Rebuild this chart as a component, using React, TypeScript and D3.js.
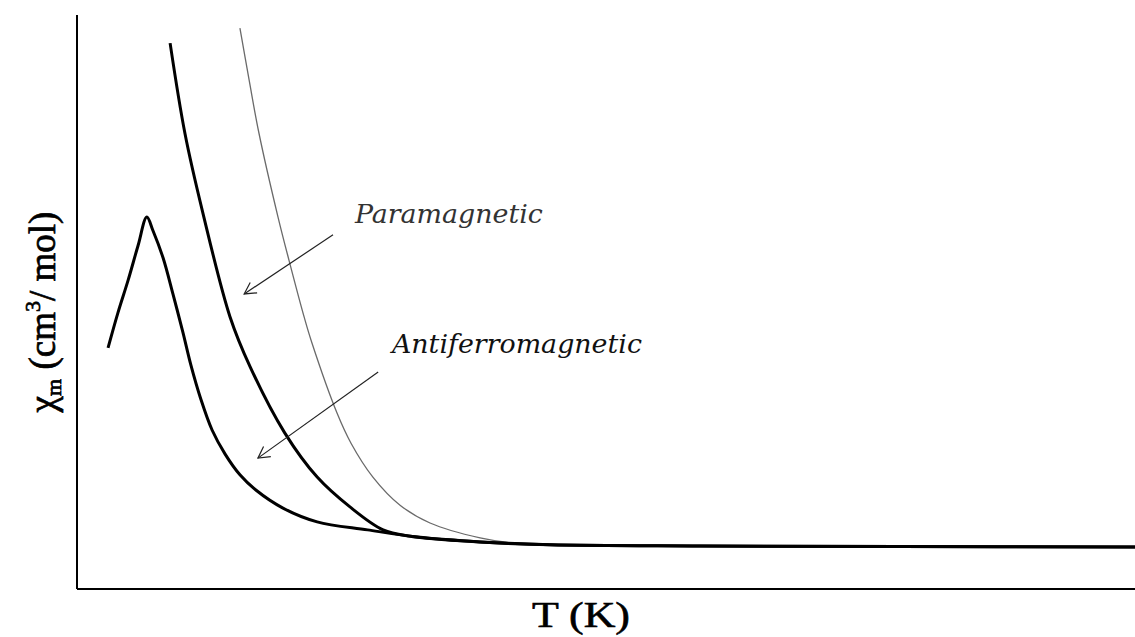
import React from "react";
import * as d3 from "d3";

// T in K, chi in arbitrary units (0..1)
const antiferroT = [8.8, 11.6, 14.5, 17.3, 19.8, 21.5, 24.4, 27.2, 30.0, 32.3, 35.1, 38.3, 42.0, 46.2, 50.8, 58.4, 68.1, 82.4, 97.3, 114.3, 134.1, 176.7, 233.4, 300];
const antiferroChi = [0.42, 0.481, 0.538, 0.598, 0.648, 0.625, 0.577, 0.514, 0.448, 0.390, 0.331, 0.277, 0.235, 0.199, 0.172, 0.141, 0.117, 0.103, 0.090, 0.082, 0.077, 0.075, 0.074, 0.073];

const paraT = [26.4, 30.6, 35.7, 43.4, 49.1, 58.9, 68.1, 77.4, 86.8, 94.5, 114.3, 134.1, 176.7, 233.4, 300];
const paraChi = [0.951, 0.794, 0.655, 0.474, 0.387, 0.272, 0.195, 0.143, 0.103, 0.092, 0.082, 0.077, 0.075, 0.074, 0.073];

const grayT = [46.2, 48.8, 51.6, 57.0, 60.1, 64.4, 66.6, 73.7, 77.7, 83.9, 91.6, 100.1, 114.3, 123.6, 134.1, 176.7, 233.4, 300];
const grayChi = [0.977, 0.887, 0.794, 0.648, 0.573, 0.474, 0.429, 0.307, 0.254, 0.195, 0.146, 0.115, 0.089, 0.08, 0.077, 0.075, 0.074, 0.073];

const labels = ["Paramagnetic", "Antiferromagnetic"];
const labelT = [78.8, 89.3];
const labelChi = [0.638, 0.411];
const arrowFromT = [72.6, 85.4];
const arrowFromChi = [0.617, 0.378];
const arrowToT = [47.4, 51.3];
const arrowToChi = [0.514, 0.228];

const xLabel = "T (K)";

export default function App() {
  const W = 1135, H = 637;
  const x = d3.scaleLinear().domain([0, 300]).range([77, 1135]);
  const y = d3.scaleLinear().domain([0, 1]).range([589, 15]);
  const line = d3
    .line<[number, number]>()
    .x((d) => x(d[0]))
    .y((d) => y(d[1]))
    .curve(d3.curveCatmullRom.alpha(0.5));
  const zip = (a: number[], b: number[]) => a.map((v, i) => [v, b[i]] as [number, number]);

  const arrowHead = (x1: number, y1: number, x2: number, y2: number) => {
    const ang = Math.atan2(y2 - y1, x2 - x1);
    const L = 13, spread = 0.5;
    const a1 = ang + Math.PI - spread, a2 = ang + Math.PI + spread;
    return `M${x2 + L * Math.cos(a1)},${y2 + L * Math.sin(a1)}L${x2},${y2}L${x2 + L * Math.cos(a2)},${y2 + L * Math.sin(a2)}`;
  };

  return (
    <svg width={W} height={H} style={{ position: "absolute", left: 0, top: 0, background: "#fff" }}>
      {/* axes */}
      <line x1={x(0)} y1={y(1)} x2={x(0)} y2={y(0)} stroke="#000" strokeWidth={2} />
      <line x1={x(0)} y1={y(0)} x2={x(300)} y2={y(0)} stroke="#000" strokeWidth={2} />

      {/* curves */}
      <path d={line(zip(grayT, grayChi)) || ""} fill="none" stroke="#6a6a6a" strokeWidth={1.3} />
      <path d={line(zip(paraT, paraChi)) || ""} fill="none" stroke="#000" strokeWidth={3} />
      <path d={line(zip(antiferroT, antiferroChi)) || ""} fill="none" stroke="#000" strokeWidth={3} strokeLinejoin="round" />

      {/* arrows */}
      {labels.map((l, i) => {
        const x1 = x(arrowFromT[i]), y1 = y(arrowFromChi[i]);
        const x2 = x(arrowToT[i]), y2 = y(arrowToChi[i]);
        return (
          <g key={l}>
            <line x1={x1} y1={y1} x2={x2} y2={y2} stroke="#222" strokeWidth={1.2} />
            <path d={arrowHead(x1, y1, x2, y2)} fill="none" stroke="#222" strokeWidth={1.2} />
          </g>
        );
      })}

      {/* labels */}
      <text
        x={x(labelT[0])}
        y={y(labelChi[0])}
        fontFamily="'DejaVu Serif', 'Liberation Serif', serif"
        fontStyle="italic"
        fontSize={26}
        fill="#333"
        textLength={188}
        lengthAdjust="spacingAndGlyphs"
      >
        {labels[0]}
      </text>
      <text
        x={x(labelT[1])}
        y={y(labelChi[1])}
        fontFamily="'DejaVu Serif', 'Liberation Serif', serif"
        fontStyle="italic"
        fontSize={26}
        fill="#111"
        textLength={250}
        lengthAdjust="spacingAndGlyphs"
      >
        {labels[1]}
      </text>

      {/* x axis label */}
      <text
        x={581}
        y={627}
        textAnchor="middle"
        fontFamily="'Liberation Serif', 'Times New Roman', serif"
        fontSize={36}
        fill="#000"
        stroke="#000"
        strokeWidth={0.6}
        textLength={98}
        lengthAdjust="spacingAndGlyphs"
      >
        {xLabel}
      </text>

      {/* y axis label */}
      <g transform="translate(55,312) rotate(-90)">
        <text
          x={0}
          y={0}
          textAnchor="middle"
          fontFamily="'Liberation Serif', 'Times New Roman', serif"
          fontSize={37}
          fill="#000"
          stroke="#000"
          strokeWidth={0.7}
        >
          <tspan>χ</tspan>
          <tspan fontSize={22} dy={6}>m</tspan>
          <tspan dy={-6}> (cm</tspan>
          <tspan fontSize={22} dy={-15}>3</tspan>
          <tspan dy={15}>/ mol)</tspan>
        </text>
      </g>
    </svg>
  );
}
